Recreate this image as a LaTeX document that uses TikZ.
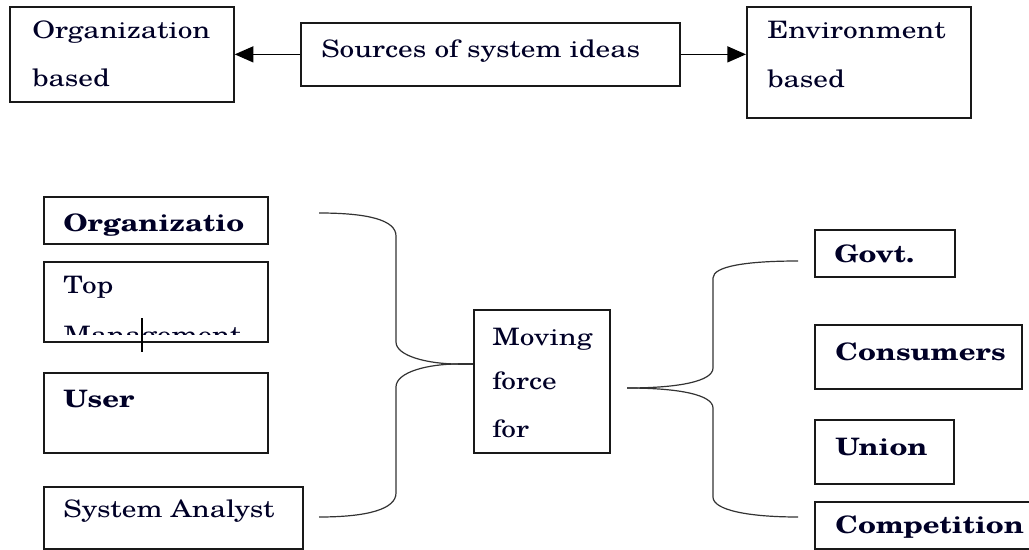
\documentclass[tikz,border=0pt]{standalone}
\usepackage{fontspec}
\setmainfont{TeX Gyre Schola}[FakeStretch=1.22]
\usetikzlibrary{arrows.meta}
\tikzset{
  box/.style={draw=black!90, line width=1.3pt, inner sep=0pt, anchor=north west, fill=none},
  txt/.style={anchor=base west, inner sep=0pt, text=black!85!blue, font=\fontsize{18}{20}\selectfont},
  btxt/.style={txt, font=\fontsize{18}{20}\selectfont\bfseries},
  arr/.style={line width=1.1pt, -{Triangle[length=14pt,width=12pt]}},
  brace/.style={line width=0.9pt, draw=black!80},
}
\begin{document}
\begin{tikzpicture}[x=0.75pt,y=-0.75pt]
\useasboundingbox (0,0) rectangle (1029,550);
% top row
\node[box, minimum width=168pt, minimum height=71.25pt] (orgB) at (9,6) {};
\node[box, minimum width=284.25pt, minimum height=47.25pt] (src) at (300,22) {};
\node[box, minimum width=168pt, minimum height=83.25pt] (envB) at (746,6) {};
\node[txt] (t1) at (32,38) {Organization};
\node[txt] (t2) at (32,86) {based};
\node[txt] (t3) at (321,57) {Sources\ of\ system\ ideas};
\node[txt] (t4) at (767,38) {Environment};
\node[txt] (t5) at (767,87) {based};
\draw[arr] (src.west) -- (src.west -| orgB.east);
\draw[arr] (src.east) -- (src.east -| envB.west);
% left column
\node[box, minimum width=168pt, minimum height=35.25pt] (org2) at (43,196) {};
\node[box, minimum width=168pt, minimum height=60pt] (topM) at (43,261) {};
\node[box, minimum width=168pt, minimum height=60pt] (user) at (43,372) {};
\node[box, minimum width=194.25pt, minimum height=46.5pt] (sa) at (43,486) {};
\node[btxt] (t6) at (63,231) {Organizatio};
\node[txt] (t7) at (63,293) {Top};
\begin{scope}
\clip (43,261) rectangle (267,334);
\node[txt] (t8) at (63,343) {Management};
\end{scope}
\draw[line width=0.8pt] (142,318) -- (142,352);
\node[btxt] (t9) at (63,407) {User};
\node[txt] (t10) at (63,517) {System Analyst};
% middle
\node[box, minimum width=102pt, minimum height=107.25pt] (mov) at (473,309) {};
\node[txt] (t11) at (492,345) {Moving};
\node[txt] (t12) at (492,389) {force};
\node[txt] (t13) at (492,437) {for};
% right column
\node[box, minimum width=105pt, minimum height=35.25pt] (govt) at (814,229) {};
\node[box, minimum width=155.25pt, minimum height=48pt] (cons) at (814,324) {};
\node[box, minimum width=104.25pt, minimum height=48pt] (union) at (814,419) {};
\node[box, minimum width=172.5pt, minimum height=35.25pt] (comp) at (814,501) {};
\node[btxt] (t14) at (834,262) {Govt.};
\node[btxt] (t15) at (835,360) {Consumers};
\node[btxt] (t16) at (835,455) {Union};
\node[btxt] (t17) at (835,533) {Competition};
% left brace
\coordinate (la) at (319,213);
\coordinate (lt) at (458,364);
\coordinate (lb) at (319,517);
\draw[brace] (la) .. controls (368,213) and (396,220) .. (396,236) -- (396,342)
  .. controls (396,356) and (428,364) .. (lt);
\draw[brace] (lt) .. controls (428,364) and (396,372) .. (396,387) -- (396,493)
  .. controls (396,509) and (368,517) .. (lb);
\draw[brace] (lt) -- (lt -| mov.west);
% right brace
\coordinate (rt) at (627,388);
\coordinate (ra) at (798,261);
\coordinate (rb) at (798,517);
\draw[brace] (rt) .. controls (680,388) and (713,381) .. (713,368) -- (713,278)
  .. controls (713,266) and (748,261) .. (ra);
\draw[brace] (rt) .. controls (680,388) and (713,395) .. (713,408) -- (713,497)
  .. controls (713,510) and (748,517) .. (rb);
\end{tikzpicture}
\end{document}
